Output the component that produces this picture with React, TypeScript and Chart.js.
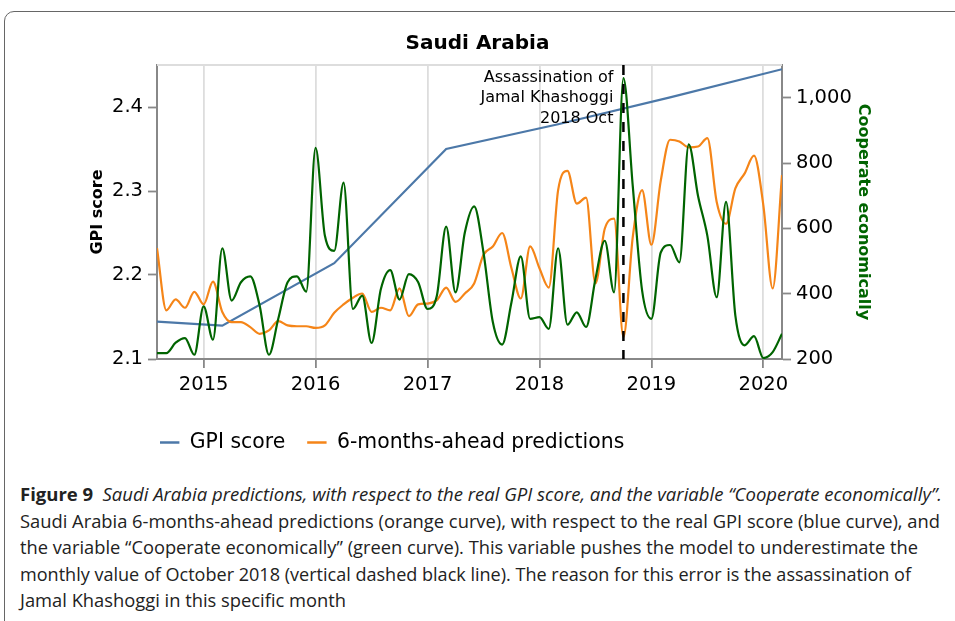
import React, { useEffect, useRef } from "react";
import { Chart, registerables } from "chart.js";

Chart.register(...registerables);

const FONT = "'DejaVu Sans', sans-serif";

// ---- data ----
const months = [
  "2014-08", "2014-09", "2014-10", "2014-11", "2014-12",
  "2015-01", "2015-02", "2015-03", "2015-04", "2015-05", "2015-06", "2015-07", "2015-08", "2015-09", "2015-10", "2015-11", "2015-12",
  "2016-01", "2016-02", "2016-03", "2016-04", "2016-05", "2016-06", "2016-07", "2016-08", "2016-09", "2016-10", "2016-11", "2016-12",
  "2017-01", "2017-02", "2017-03", "2017-04", "2017-05", "2017-06", "2017-07", "2017-08", "2017-09", "2017-10", "2017-11", "2017-12",
  "2018-01", "2018-02", "2018-03", "2018-04", "2018-05", "2018-06", "2018-07", "2018-08", "2018-09", "2018-10", "2018-11", "2018-12",
  "2019-01", "2019-02", "2019-03", "2019-04", "2019-05", "2019-06", "2019-07", "2019-08", "2019-09", "2019-10", "2019-11", "2019-12",
  "2020-01", "2020-02", "2020-03",
];

const predictions = [
  2.232, 2.158, 2.171, 2.161, 2.180,
  2.165, 2.192, 2.156, 2.144, 2.144, 2.138, 2.130, 2.134, 2.145, 2.140, 2.139, 2.139,
  2.137, 2.140, 2.155, 2.165, 2.173, 2.178, 2.156, 2.161, 2.158, 2.184, 2.151, 2.165,
  2.166, 2.170, 2.185, 2.168, 2.178, 2.190, 2.224, 2.234, 2.250, 2.208, 2.172, 2.234,
  2.208, 2.185, 2.301, 2.324, 2.285, 2.292, 2.190, 2.255, 2.267, 2.126, 2.245, 2.301,
  2.236, 2.312, 2.361, 2.359, 2.352, 2.353, 2.363, 2.287, 2.261, 2.303, 2.321, 2.342,
  2.283, 2.184, 2.319,
];

const cooperate = [
  218, 218, 250, 264, 213,
  361, 259, 539, 379, 435, 453, 364, 213, 323, 435, 453, 406,
  846, 577, 531, 740, 353, 394, 249, 414, 472, 382, 460, 435,
  353, 394, 605, 404, 587, 667, 526, 313, 244, 374, 514, 323,
  328, 292, 539, 305, 343, 298, 445, 562, 404, 1060, 730, 410,
  323, 526, 549, 496, 857, 699, 577, 389, 681, 333, 242, 270,
  203, 221, 277,
];

const gpiMonths = ["2014-08", "2015-03", "2016-03", "2017-03", "2018-03", "2019-03", "2020-03"];
const gpiScores = [2.1445, 2.1397, 2.214, 2.35, 2.3795, 2.4114, 2.445];

const yearTicks = [2015, 2016, 2017, 2018, 2019, 2020];
const gpiTicks = [2.1, 2.2, 2.3, 2.4];
const coopTicks = [200, 400, 600, 800, 1000];

const legendOrder = ["GPI score", "6-months-ahead predictions"];

const eventMonth = "2018-10";
const eventLines = ["Assassination of", "Jamal Khashoggi", "2018 Oct"];

const captionLines = [
  { bold: "Figure 9", italic: "Saudi Arabia predictions, with respect to the real GPI score, and the variable \u201cCooperate economically\u201d." },
  { text: "Saudi Arabia 6-months-ahead predictions (orange curve), with respect to the real GPI score (blue curve), and" },
  { text: "the variable \u201cCooperate economically\u201d (green curve). This variable pushes the model to underestimate the" },
  { text: "monthly value of October 2018 (vertical dashed black line). The reason for this error is the assassination of" },
  { text: "Jamal Khashoggi in this specific month" },
];
// line widths of the caption in the reference (0 = use the factor of line 2)
const captionWidths = [922, 920, 898, 891, 0];

const toX = (m: string) => {
  const [y, mo] = m.split("-").map(Number);
  return y + (mo - 1) / 12;
};

export default function App() {
  const canvasRef = useRef<HTMLCanvasElement | null>(null);
  const capRefs = useRef<(HTMLSpanElement | null)[]>([]);

  useEffect(() => {
    const canvas = canvasRef.current;
    if (!canvas) return;

    const decor = {
      id: "decor",
      beforeDatasetsDraw(chart: any) {
        const { ctx, chartArea: a } = chart;
        ctx.save();
        ctx.strokeStyle = "#dddddd";
        ctx.lineWidth = 1.8;
        ctx.beginPath();
        ctx.moveTo(a.left, a.top);
        ctx.lineTo(a.right, a.top);
        ctx.stroke();
        ctx.restore();
      },
      afterDatasetsDraw(chart: any) {
        const { ctx, chartArea: a, scales } = chart;
        const x = scales.x.getPixelForValue(toX(eventMonth));
        ctx.save();
        ctx.strokeStyle = "#000";
        ctx.lineWidth = 2.5;
        ctx.setLineDash([10, 9]);
        ctx.beginPath();
        ctx.moveTo(x, a.top);
        ctx.lineTo(x, a.bottom);
        ctx.stroke();
        ctx.setLineDash([]);
        ctx.fillStyle = "#000";
        ctx.font = `16px ${FONT}`;
        ctx.textAlign = "right";
        ctx.textBaseline = "middle";
        eventLines.forEach((t, i) => ctx.fillText(t, x - 10, a.top + 12.5 + i * 20.6));
        ctx.restore();
      },
      afterDraw(chart: any) {
        const { ctx, chartArea: a } = chart;
        const items = legendOrder
          .map((l) => chart.data.datasets.find((d: any) => d.label === l))
          .filter(Boolean);
        let lx = a.left + 3;
        const ly = a.bottom + 83.5;
        ctx.save();
        ctx.font = `20.4px ${FONT}`;
        ctx.textAlign = "left";
        ctx.textBaseline = "middle";
        items.forEach((d: any) => {
          ctx.strokeStyle = d.borderColor;
          ctx.lineWidth = 2.5;
          ctx.beginPath();
          ctx.moveTo(lx, ly);
          ctx.lineTo(lx + 19.4, ly);
          ctx.stroke();
          ctx.fillStyle = "#000";
          ctx.fillText(d.label, lx + 29.8, ly);
          lx += 29.8 + ctx.measureText(d.label).width + 22;
        });
        ctx.restore();
      },
    };

    const tickFont = { family: FONT, size: 19.5 };

    const chart = new Chart(canvas, {
      type: "line",
      data: {
        datasets: [
          {
            label: "Cooperate economically",
            data: months.map((m, i) => ({ x: toX(m), y: cooperate[i] })),
            borderColor: "#006400",
            borderWidth: 2.2,
            pointRadius: 0,
            cubicInterpolationMode: "monotone",
            yAxisID: "y2",
            order: 0,
          } as any,
          {
            label: "6-months-ahead predictions",
            data: months.map((m, i) => ({ x: toX(m), y: predictions[i] })),
            borderColor: "#f58518",
            borderWidth: 2.2,
            pointRadius: 0,
            cubicInterpolationMode: "monotone",
            yAxisID: "y",
            order: 1,
          } as any,
          {
            label: "GPI score",
            data: gpiMonths.map((m, i) => ({ x: toX(m), y: gpiScores[i] })),
            borderColor: "#4c78a8",
            borderWidth: 2.2,
            pointRadius: 0,
            tension: 0,
            yAxisID: "y",
            order: 2,
          } as any,
        ],
      },
      options: {
        responsive: false,
        animation: false,
        events: [],
        layout: { padding: { left: 0, right: 0, top: 0, bottom: 71 } },
        plugins: {
          legend: { display: false },
          tooltip: { enabled: false },
          title: {
            display: true,
            text: "Saudi Arabia",
            color: "#000",
            font: { family: FONT, size: 20, weight: "bold" },
            padding: { top: 32, bottom: 9 },
          },
        },
        scales: {
          x: {
            type: "linear",
            min: toX(months[0]),
            max: toX(months[months.length - 1]),
            afterBuildTicks: (s: any) => {
              s.ticks = yearTicks.map((v) => ({ value: v }));
            },
            ticks: {
              callback: (v: any) => String(v),
              font: tickFont,
              color: "#000",
              padding: 5,
              maxRotation: 0,
              autoSkip: false,
            },
            grid: { color: "#dddddd", lineWidth: 1.8, tickColor: "#888", tickLength: 9, tickWidth: 1.8 },
            border: { color: "#888", width: 2 },
            afterFit: (s: any) => {
              s.height = 40;
            },
          },
          y: {
            position: "left",
            min: 2.1,
            max: 2.45,
            afterBuildTicks: (s: any) => {
              s.ticks = gpiTicks.map((v) => ({ value: v }));
            },
            ticks: {
              callback: (v: any) => Number(v).toFixed(1),
              font: tickFont,
              color: "#000",
              padding: 5,
            },
            grid: { drawOnChartArea: false, tickColor: "#888", tickLength: 9, tickWidth: 1.8 },
            border: { color: "#888", width: 2 },
            title: {
              display: true,
              text: "GPI score",
              color: "#000",
              font: { family: FONT, size: 16, weight: "bold" },
              padding: { top: 88, bottom: 0 },
            },
            afterFit: (s: any) => {
              s.width = 157;
            },
          },
          y2: {
            position: "right",
            min: 200,
            max: 1100,
            afterBuildTicks: (s: any) => {
              s.ticks = coopTicks.map((v) => ({ value: v }));
            },
            ticks: {
              callback: (v: any) => Number(v).toLocaleString("en-US"),
              font: tickFont,
              color: "#000",
              padding: 5,
            },
            grid: { drawOnChartArea: false, tickColor: "#888", tickLength: 9, tickWidth: 1.8 },
            border: { color: "#888", width: 2 },
            title: {
              display: true,
              text: "Cooperate economically",
              color: "#006400",
              font: { family: FONT, size: 16, weight: "bold" },
              padding: { top: 82, bottom: 0 },
            },
            afterFit: (s: any) => {
              s.width = 173;
            },
          },
        },
      } as any,
      plugins: [decor],
    });

    // condense caption lines (reference uses a narrow humanist face)
    const fit = () => {
      const els = capRefs.current;
      els.forEach((el) => el && (el.style.transform = "none"));
      const widths = els.map((el) => (el ? el.getBoundingClientRect().width : 0));
      const base = widths[1] > 0 ? captionWidths[1] / widths[1] : 1;
      els.forEach((el, i) => {
        if (!el || widths[i] <= 0) return;
        const k = captionWidths[i] > 0 ? captionWidths[i] / widths[i] : base;
        el.style.transform = `scaleX(${k})`;
      });
    };
    fit();
    if ((document as any).fonts && (document as any).fonts.ready) {
      (document as any).fonts.ready.then(fit);
    }

    return () => chart.destroy();
  }, []);

  const capFont = "'Open Sans', 'Noto Sans', sans-serif";

  return (
    <div style={{ position: "absolute", left: 0, top: 0, width: 955, height: 621, overflow: "hidden", background: "#fff" }}>
      <div
        style={{
          position: "absolute",
          left: 4,
          top: 11,
          width: 1000,
          height: 700,
          border: "1.5px solid #666",
          borderTopLeftRadius: 10,
          boxSizing: "border-box",
        }}
      />
      <canvas ref={canvasRef} width={955} height={470} style={{ position: "absolute", left: 0, top: 0, width: 955, height: 470 }} />
      {captionLines.map((ln: any, i) => (
        <div
          key={i}
          style={{
            position: "absolute",
            left: 20,
            top: 481 + i * 26.5,
            height: 26.5,
            lineHeight: "26.5px",
            whiteSpace: "nowrap",
            fontFamily: capFont,
            fontSize: 18,
            color: "#222",
          }}
        >
          <span
            ref={(el) => {
              capRefs.current[i] = el;
            }}
            style={{ display: "inline-block", transformOrigin: "0 50%" }}
          >
            {ln.bold ? (
              <>
                <b>{ln.bold}</b>
                {"\u2002"}
                <i>{ln.italic}</i>
              </>
            ) : (
              ln.text
            )}
          </span>
        </div>
      ))}
    </div>
  );
}
